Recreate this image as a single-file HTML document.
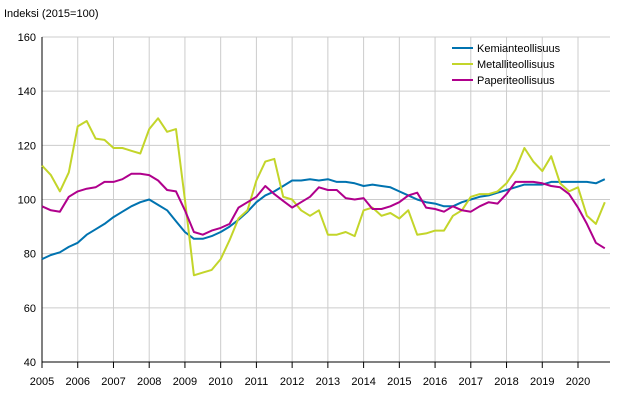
<!DOCTYPE html>
<html><head><meta charset="utf-8"><style>
body{margin:0;background:#fff;font-family:"Liberation Sans",sans-serif}
svg text{font-family:"Liberation Sans",sans-serif;font-size:11px;fill:#000}
</style></head><body>
<svg id="c" width="620" height="400"></svg>
<script>
const startYear=2005, step=0.25;
const yTicks=[40,60,80,100,120,140,160];
const xTicks=[2005,2006,2007,2008,2009,2010,2011,2012,2013,2014,2015,2016,2017,2018,2019,2020];
const seriesNames=["Kemianteollisuus","Metalliteollisuus","Paperiteollisuus"];
const kemia=[78,79.5,80.5,82.5,84,87,89,91,93.5,95.5,97.5,99,100,98,96,92,88,85.5,85.5,86.5,88,90,92.5,95.5,99,101.5,103,105,107,107,107.5,107,107.5,106.5,106.5,106,105,105.5,105,104.5,103,101.5,100,99,98.5,97.5,97.5,99,100,101,101.5,102.5,103.5,104.5,105.5,105.5,105.5,106.5,106.5,106.5,106.5,106.5,106,107.5];
const metalli=[112.5,109,103,110,127,129,122.5,122,119,119,118,117,126,130,125,126,100,72,73,74,78,85,93,96,107,114,115,101,100,96,94,96,87,87,88,86.5,96,97,94,95,93,96,87,87.5,88.5,88.5,94,96,101,102,102,103,106,111,119,114,110.5,116,106,103,104.5,94,91,99];
const paperi=[97.5,96,95.5,101,103,104,104.5,106.5,106.5,107.5,109.5,109.5,109,107,103.5,103,96,88,87,88.5,89.5,91,97,99,101,105,102,99.5,97,99,101,104.5,103.5,103.5,100.5,100,100.5,96.5,96.5,97.5,99,101.5,102.5,97,96.5,95.5,97.5,96,95.5,97.5,99,98.5,102,106.5,106.5,106.5,106,105,104.5,102,97,91,84,82];
const colors=["#0073b0","#c3d52a","#b0008c"];
const svg=document.getElementById('c');const NS="http://www.w3.org/2000/svg";
const L=42,R=610,T=37,B=362;
const x=v=>L+(v-2005)*(578-42)/15;
const y=v=>B-(v-40)*(B-T)/120;
function mk(t,a,p){const e=document.createElementNS(NS,t);for(const k in a)e.setAttribute(k,a[k]);(p||svg).appendChild(e);return e;}
let e;
e=mk('text',{x:4,y:17});e.textContent="Indeksi (2015=100)";


yTicks.forEach(v=>{
 if(v>40){e=mk('line',{x1:L,x2:R,y1:y(v),y2:y(v),stroke:'#cccccc','stroke-width':1});
 
 }
 e=mk('text',{x:36,y:y(v)+4,'text-anchor':'end'});e.textContent=v;
 
 
});
xTicks.forEach(v=>{
 if(v>2005){e=mk('line',{x1:x(v),x2:x(v),y1:T,y2:B,stroke:'#cccccc','stroke-width':1});
 
 }
 e=mk('line',{x1:x(v),x2:x(v),y1:B,y2:B+6,stroke:'#000'});
 
 
 e=mk('text',{x:x(v),y:385,'text-anchor':'middle'});e.textContent=v;
 
 
});
e=mk('line',{x1:L,x2:L,y1:T,y2:B,stroke:'#000'});


e=mk('line',{x1:L,x2:R,y1:B,y2:B,stroke:'#000'});


[kemia,metalli,paperi].forEach((s,i)=>{
 const d=s.map((v,j)=>(j?'L':'M')+x(startYear+j*step).toFixed(1)+','+y(v).toFixed(1)).join(' ');
 e=mk('path',{d:d,fill:'none',stroke:colors[i],'stroke-width':2,'stroke-linejoin':'round'});
 
 
 e=mk('line',{x1:452,x2:473,y1:48+i*16,y2:48+i*16,stroke:colors[i],'stroke-width':2});
 
 
 e=mk('text',{x:477,y:52+i*16});e.textContent=seriesNames[i];
 
 
});
</script>
</body></html>
